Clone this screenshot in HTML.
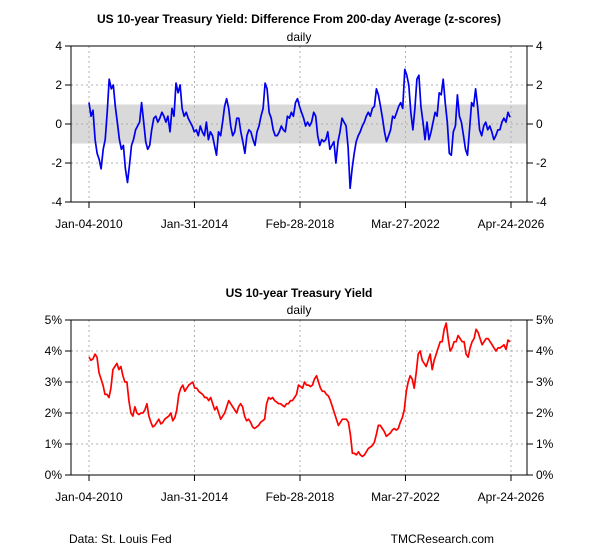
<!DOCTYPE html>
<html><head><meta charset="utf-8"><style>
html,body{margin:0;padding:0;background:#fff;}
svg{display:block;font-family:"Liberation Sans",Arial,sans-serif;}
</style></head><body>
<svg id="chart" width="600" height="550" viewBox="0 0 600 550" xmlns="http://www.w3.org/2000/svg">
<rect width="600" height="550" fill="#fff"/>
<g id="top"></g>
<g id="bot"></g>
<text x="299" y="23" text-anchor="middle" font-size="12" font-weight="bold">US 10-year Treasury Yield: Difference From 200-day Average (z-scores)</text>
<text x="299" y="41" text-anchor="middle" font-size="12">daily</text>
<text x="299" y="297" text-anchor="middle" font-size="12" font-weight="bold">US 10-year Treasury Yield</text>
<text x="299" y="314" text-anchor="middle" font-size="12">daily</text>
<text x="69" y="543" font-size="12">Data: St. Louis Fed</text>
<text x="494" y="543" text-anchor="end" font-size="12">TMCResearch.com</text>
</svg>
<script>
const xTickLabels = ["Jan-04-2010","Jan-31-2014","Feb-28-2018","Mar-27-2022","Apr-24-2026"];
const xTickDates = ["2010-01-04","2014-01-31","2018-02-28","2022-03-27","2026-04-24"];
const seriesStart = "2010-01-04";
const seriesEnd = "2026-04-10";
const zTicks = [-4,-2,0,2,4];
const zBand = [-1,1];
const yieldTicks = [0,1,2,3,4,5];
const zScores = [1.1,0.4,0.7,-0.8,-1.5,-1.8,-2.3,-1.3,-0.8,0.6,2.3,1.8,2.0,0.9,0.1,-0.8,-1.3,-1.1,-2.3,-3.0,-2.1,-1.1,-0.8,-0.3,-0.1,0.1,1.1,0.1,-0.9,-1.3,-1.1,-0.3,0.3,0.4,0.1,0.3,0.6,0.4,0.1,0.4,-0.4,0.8,0.4,2.1,1.6,2.0,0.8,0.4,0.6,0.3,0.1,
-0.1,-0.4,-0.3,-0.6,-0.1,-0.4,-0.6,0.1,-0.8,-0.4,-0.6,-1.1,-1.6,-0.4,-0.6,0.1,0.9,1.3,0.8,-0.1,-0.6,-0.4,0.3,0.3,-0.4,-0.9,-1.5,-0.6,-0.3,-0.4,-0.8,-1.1,-0.4,-0.1,0.4,0.8,2.1,1.8,0.6,0.3,-0.3,-0.6,-0.6,-0.4,-0.1,-0.3,-0.4,0.4,0.3,0.6,0.4,1.1,
1.3,0.9,0.6,0.3,-0.1,0.1,-0.1,0.1,0.6,0.4,-0.6,-1.1,-0.8,-0.9,-0.8,-0.4,-1.3,-1.1,-0.9,-2.0,-0.9,-0.4,0.3,0.1,-0.1,-1.2,-3.3,-2.3,-1.5,-0.9,-0.6,-0.4,-0.1,0.1,0.4,0.6,0.4,0.8,0.9,1.8,1.5,0.9,0.3,-0.4,-0.9,-0.6,-0.3,0.4,0.3,0.6,0.9,1.1,0.8,
2.8,2.5,2.0,0.6,-0.3,0.8,2.3,2.5,0.9,0.1,-0.8,0.1,-0.8,-0.4,0.1,0.6,0.4,1.6,1.5,2.3,1.1,0.1,-1.5,-1.6,-0.4,-0.1,1.5,0.4,0.1,-0.6,-1.3,-1.6,-0.3,1.1,0.9,1.8,0.9,-0.3,-0.6,-0.1,0.1,-0.3,-0.1,-0.4,-0.8,-0.6,-0.3,-0.3,0.1,0.3,0.1,0.6,0.35];
const yields = [3.8,3.7,3.75,3.9,3.8,3.3,3.1,2.9,2.6,2.6,2.5,2.8,3.4,3.5,3.6,3.4,3.5,3.2,3.0,3.0,2.4,2.0,1.9,2.2,2.0,1.95,2.0,2.0,2.1,2.3,1.9,1.7,1.55,1.6,1.7,1.8,1.65,1.7,1.8,1.85,1.9,2.0,1.75,1.85,2.1,2.6,2.8,2.9,2.7,2.8,2.9,2.95,3.0,2.8,2.8,2.7,2.65,2.6,2.5,2.5,2.4,2.5,2.3,2.1,2.2,2.0,1.8,1.9,2.0,2.2,2.4,2.3,2.2,2.1,2.0,2.2,2.3,2.2,1.9,1.75,1.8,1.7,1.55,1.5,1.55,1.6,1.7,1.75,1.8,2.3,2.5,2.45,2.5,2.4,2.35,2.3,2.3,2.25,2.2,2.3,2.3,2.4,2.4,2.5,2.6,2.9,2.85,2.8,3.0,2.9,2.9,2.85,2.9,3.1,3.2,3.0,2.8,2.7,2.7,2.6,2.55,2.4,2.2,2.0,1.8,1.6,
1.7,1.8,1.8,1.8,1.7,1.3,0.7,0.7,0.65,0.75,0.65,0.6,0.65,0.75,0.85,0.9,0.95,1.05,1.3,1.6,1.6,1.5,1.4,1.25,1.3,1.35,1.45,1.5,1.45,1.5,1.7,1.85,2.1,2.7,3.0,3.2,3.1,2.8,3.3,3.9,4.0,3.7,3.6,3.5,3.7,3.9,3.4,3.7,3.9,4.1,4.3,4.3,4.7,4.9,4.4,4.0,4.1,4.3,4.3,4.5,4.4,4.3,4.3,3.9,3.8,4.1,4.3,4.4,4.7,4.6,4.4,4.2,4.3,4.4,4.4,4.3,4.2,4.1,4.0,4.1,4.1,4.15,4.2,4.05,4.35,4.3];

const NS="http://www.w3.org/2000/svg";
const L=71,R=527;
const day=s=>Date.parse(s)/86400000;
const d0=day(xTickDates[0]), d1=day(xTickDates[4]);
const xScale=d=>89+(d-d0)/(d1-d0)*(511-89);
function mk(tag,attrs,parent){const e=document.createElementNS(NS,tag);for(const k in attrs)e.setAttribute(k,attrs[k]);parent.appendChild(e);return e;}
function seriesX(i,n){const s=day(seriesStart),e=day(seriesEnd);return xScale(s+(e-s)*i/(n-1));}

function panel(g,T,B,ymin,ymax,ticks,fmt,values,color,band,pfx){
  const yS=v=>B-(v-ymin)/(ymax-ymin)*(B-T);
  if(band){const r=mk('rect',{x:L,y:yS(band[1]),width:R-L,height:yS(band[0])-yS(band[1]),fill:'#d9d9d9'},g);
    
    }
  ticks.forEach(t=>{const gl=mk('line',{x1:L,x2:R,y1:yS(t),y2:yS(t),stroke:'#b0b0b0','stroke-dasharray':'2,3'},g);
    
    });
  xTickDates.forEach((d,i)=>{const x=xScale(day(d));
    const gl=mk('line',{x1:x,x2:x,y1:T,y2:B,stroke:'#b0b0b0','stroke-dasharray':'2,3'},g);
    
    
    const tk=mk('line',{x1:x,x2:x,y1:B,y2:B+6,stroke:'#000'},g);
    
    
    const tx=mk('text',{x:x,y:B+26,'text-anchor':'middle','font-size':12},g);tx.textContent=xTickLabels[i];
    
    });
  ticks.forEach(t=>{const y=yS(t);
    [[L,L-6,L-9,'end'],[R,R+6,R+9,'start']].forEach(([a,b,c,an])=>{
      const tk=mk('line',{x1:a,x2:b,y1:y,y2:y,stroke:'#000'},g);
      
      
      const tx=mk('text',{x:c,y:y+4,'text-anchor':an,'font-size':12},g);tx.textContent=fmt(t);
      
      });});
  const pts=values.map((v,i)=>seriesX(i,values.length).toFixed(1)+','+yS(v).toFixed(1)).join(' ');
  const pl=mk('polyline',{points:pts,fill:'none',stroke:color,'stroke-width':1.7,'stroke-linejoin':'round'},g);
  
  
  const bx=mk('rect',{x:L,y:T,width:R-L,height:B-T,fill:'none',stroke:'#000','stroke-width':1},g);
  
  
}
panel(document.getElementById('top'),46,202,-4,4,zTicks,t=>String(t),zScores,'#0000ee',zBand,'zscore');
panel(document.getElementById('bot'),320,475,0,5,yieldTicks,t=>t+'%',yields,'#ff0000',null,'yield');
</script>
</body></html>
